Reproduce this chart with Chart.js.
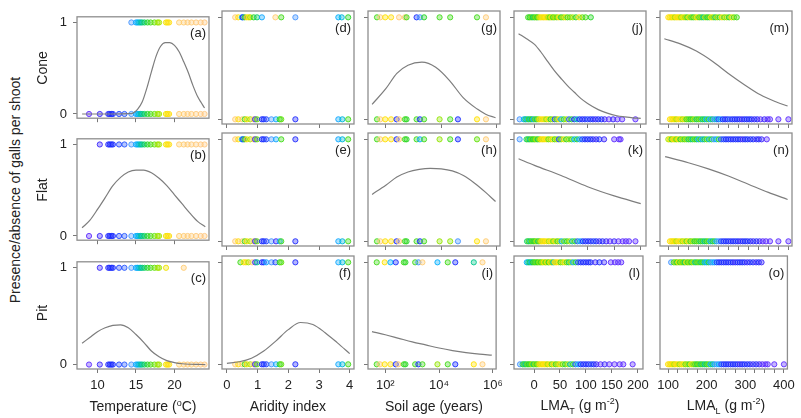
<!DOCTYPE html>
<html>
<head>
<meta charset="utf-8">
<script src="https://cdn.jsdelivr.net/npm/chart.js@4.4.0/dist/chart.umd.min.js"></script>
<style>
  body { margin: 0; background: #fff; }
  #wrap { position: relative; width: 801px; height: 418px; overflow: hidden;
          font-family: "Liberation Sans", Arial, sans-serif; color: #222; }
  #wrap canvas { position: absolute; }
  .lbl { position: absolute; white-space: nowrap; font-size: 14px; transform: translate(-50%, -50%); }
  .rot { transform: translate(-50%, -50%) rotate(-90deg); }
  sup, sub { font-size: 9px; }
</style>
</head>
<body>
<div id="wrap"></div>
<script>
// ---- data ----
// site temperatures (also used as the colour key of every point)
const siteTemp = [8.9, 10.3, 11.4, 11.6, 11.8, 12.0, 12.8, 13.5, 14.4, 15.0, 15.2, 15.4, 15.6, 15.8, 16.1,
  16.5, 16.9, 17.4, 17.8, 18.0, 18.9, 19.1, 19.3, 20.6, 21.2, 21.7, 22.2, 22.8, 23.4, 23.9];
const tempConePresent = [14.4, 15.0, 15.2, 15.4, 15.6, 15.8, 16.1, 16.5, 16.9, 17.4, 17.8, 18.0, 18.9, 19.1, 19.3,
  20.6, 21.2, 21.7, 22.2, 22.8, 23.4, 23.9];
const tempFlatPresent = siteTemp.slice(1);
const tempPitPresent = [10.3, 11.4, 11.6, 11.8, 12.0, 12.8, 13.5, 14.4, 15.0, 15.2, 15.4, 15.6, 15.8, 16.1, 16.5,
  16.9, 17.4, 17.8, 18.0, 18.9, 21.2];

// [aridity index, temperature]
const aridConePresent = [[0.27,21.7],[0.37,19.1],[0.49,15.2],[0.52,12.0],[0.58,16.9],[0.65,19.1],[0.71,19.3],[0.76,18.0],
  [0.87,16.5],[0.98,16.1],[1.14,15.0],[1.58,20.6],[1.77,16.9],[2.23,14.4],[3.63,15.2],[3.74,15.4],[3.95,16.5]];
const aridAbsent = [[0.27,21.7],[0.37,19.3],[0.5,22.2],[0.58,16.9],[0.65,19.1],[0.76,18.0],[0.87,20.6],[0.92,10.3],
  [0.98,17.4],[1.14,12.0],[1.2,11.8],[1.28,12.8],[1.45,14.4],[1.6,15.0],[1.72,16.5],[1.77,17.4],[2.23,11.6],
  [3.63,15.0],[3.76,15.4],[3.95,16.9]];
const aridFlatPresent = [[0.27,21.7],[0.37,19.3],[0.49,15.2],[0.53,12.0],[0.58,16.9],[0.65,19.1],[0.76,18.0],[0.87,20.6],
  [0.92,10.3],[0.98,17.4],[1.14,12.0],[1.2,11.8],[1.28,12.8],[1.45,14.4],[1.6,15.0],[1.77,16.9],[2.23,11.6],
  [3.63,15.0],[3.76,15.4],[3.95,16.9]];
const aridFlatAbsent = [[0.27,21.7],[0.37,19.3],[0.5,22.2],[0.58,16.9],[0.65,19.1],[0.76,18.0],[0.87,20.6],[0.92,10.3],
  [0.98,17.4],[1.14,12.0],[1.2,11.8],[1.28,12.8],[1.45,14.4],[1.6,10.3],[1.72,15.0],[1.77,16.9],[2.23,11.6],
  [3.63,15.0],[3.76,15.4],[3.95,16.9]];
const aridPitPresent = [[0.44,16.9],[0.55,19.1],[0.62,19.3],[0.7,18.0],[0.82,20.6],[0.92,10.3],[0.98,15.8],[1.14,12.0],
  [1.2,11.8],[1.28,15.0],[1.45,14.4],[1.58,12.8],[1.72,16.5],[1.77,17.4],[2.23,11.6],[3.63,15.0],[3.76,15.4],[3.95,16.9]];

// [soil age (years), temperature]
const soilConePresent = [[48,16.9],[63,21.7],[95,19.1],[155,19.3],[300,22.5],[490,21.2],[560,16.9],[1290,12.0],
  [1700,14.4],[2400,16.5],[8700,16.9],[21000,16.9],[195000,16.9],[410000,21.7]];
const soilAbsent = [[48,16.9],[63,21.7],[95,19.1],[155,19.3],[245,12.0],[300,21.2],[490,16.9],[560,16.5],[1290,16.9],
  [1700,12.0],[2400,16.9],[8700,17.8],[21000,16.9],[40000,12.0],[195000,19.1],[410000,21.2]];
const soilFlatPresent = [[48,16.9],[63,21.7],[95,19.1],[155,19.3],[245,12.0],[300,21.2],[490,16.9],[560,16.5],
  [1290,16.9],[1700,15.0],[2400,16.9],[8700,17.8],[21000,16.9],[40000,12.0],[195000,17.4],[410000,21.2]];
const soilFlatAbsent = [[48,16.9],[63,21.7],[95,19.1],[155,19.3],[245,12.0],[300,21.2],[490,16.9],[560,16.5],
  [1290,16.9],[1700,12.0],[2400,16.9],[8700,17.8],[21000,17.8],[40000,14.4],[195000,19.1],[410000,21.2]];
const soilPitPresent = [[48,16.9],[95,19.1],[155,15.2],[245,12.0],[490,16.9],[560,16.5],[1290,16.9],[1700,14.4],
  [2400,21.2],[8700,15.2],[21000,16.9],[40000,12.0],[195000,15.8],[410000,21.2]];

// [LMA_T (g m-2), temperature]
const lmaTConePresent = [[-12,16.9],[-9,16.5],[-6,17.4],[-3,16.1],[0,16.9],[3,17.8],[5,16.5],[8,18.0],[11,19.1],[14,19.3],
  [17,18.9],[20,19.1],[23,19.3],[26,18.0],[29,17.4],[32,18.9],[35,16.9],[38,18.0],[42,17.4],[46,19.1],[50,16.5],[54,17.8],
  [58,18.9],[62,16.9],[67,17.4],[72,18.0],[78,16.5],[84,19.1],[90,17.4],[96,16.9],[106,16.5]];
const lmaTConeAbsent = [[-28,14.4],[-20,15.2],[-17,16.1],[-14,15.4],[-11,16.9],[-8,15.8],[-5,16.5],[-2,15.0],[1,17.4],
  [4,16.1],[7,18.0],[10,19.1],[14,19.3],[18,18.9],[22,17.8],[26,19.1],[30,16.5],[34,18.0],[38,12.8],[42,17.4],[46,19.1],
  [50,15.2],[55,16.9],[60,18.0],[65,13.5],[70,16.5],[75,12.0],[80,15.6],[85,11.8],[90,12.0],[95,11.4],[100,12.8],
  [105,11.6],[110,12.0],[115,10.3],[120,11.8],[126,12.0],[132,10.3],[140,9.0],[148,10.3],[156,9.0],[165,9.0],[190,9.0]];
const lmaTFlatPresent = [[-28,14.4],[-15,16.1],[-12,16.9],[-9,15.8],[-6,17.4],[-3,16.5],[0,16.9],[3,18.0],[6,16.1],
  [9,17.8],[12,19.1],[15,19.3],[18,18.9],[22,19.1],[26,17.4],[30,18.0],[34,19.1],[38,16.9],[42,18.0],[46,12.8],[50,17.4],
  [55,18.9],[60,16.5],[65,17.8],[70,16.9],[75,15.2],[80,16.5],[85,15.0],[90,12.8],[95,12.0],[100,11.8],[105,12.0],
  [110,11.4],[116,10.3],[122,12.0],[131,10.3],[150,9.0],[159,9.0],[162,9.0]];
const lmaTFlatAbsent = [[-14,16.1],[-11,16.9],[-8,15.8],[-5,17.4],[-2,16.5],[1,16.9],[4,18.0],[7,16.1],[10,17.8],
  [13,19.1],[16,19.3],[19,18.9],[23,19.1],[27,18.0],[31,19.1],[35,17.4],[39,18.9],[43,16.9],[47,18.0],[51,15.2],[56,17.4],
  [61,16.5],[66,18.0],[71,15.6],[76,16.9],[81,13.5],[86,15.2],[91,12.0],[96,11.8],[101,12.0],[106,11.4],[111,12.8],
  [116,12.0],[122,10.3],[128,11.6],[135,10.3],[142,9.0],[150,10.3],[158,9.0],[166,9.0],[172,9.0],[178,9.0],[190,9.0]];
const lmaTPitPresent = [[-14,15.2],[-11,15.8],[-8,16.1],[-5,15.4],[-2,16.5],[1,16.9],[4,17.4],[7,16.5],[10,17.8],
  [13,16.9],[16,18.0],[19,19.1],[22,17.4],[25,18.9],[28,16.5],[31,19.1],[34,18.0],[37,15.6],[40,19.3],[43,18.9],[47,19.1],
  [51,16.9],[55,18.0],[59,19.1],[63,17.4],[67,16.1],[71,18.0],[75,15.0],[80,16.5],[85,12.8],[90,12.0],[95,11.8],
  [100,12.0],[105,11.4],[109,12.0],[118,10.3],[126,12.0],[135,10.3],[148,9.0],[156,9.0],[162,9.0],[168,9.0]];
const lmaTPitAbsent = [[-27,14.4],[-22,16.1],[-19,16.9],[-16,15.8],[-13,17.4],[-10,16.5],[-7,16.9],[-4,18.0],[-1,16.1],
  [2,17.8],[5,16.9],[8,18.0],[11,19.1],[14,19.3],[17,18.9],[20,19.1],[23,19.3],[26,18.0],[30,19.1],[34,17.4],[38,18.9],
  [42,16.9],[46,18.0],[50,19.1],[55,17.4],[60,16.5],[65,18.0],[70,15.6],[75,16.9],[80,13.5],[85,15.2],[90,12.0],
  [95,11.8],[100,12.0],[105,11.4],[110,12.8],[115,12.0],[120,10.3],[128,9.0],[136,10.3],[145,9.0],[155,9.0],[165,9.0],
  [172,9.0],[190,9.0]];

// [LMA_L (g m-2), temperature]
const lmaLConePresent = [[100,19.1],[104,19.3],[108,18.9],[112,19.1],[116,18.0],[120,19.3],[124,19.1],[128,18.9],
  [132,17.8],[137,19.1],[142,18.0],[147,16.9],[152,18.9],[157,17.4],[162,16.5],[167,18.0],[172,19.1],[177,16.9],
  [182,17.4],[187,15.8],[192,18.0],[197,16.5],[202,16.9],[207,19.1],[212,17.8],[217,16.1],[222,18.0],[228,16.9],
  [234,19.1],[240,17.4],[246,18.0],[252,16.5],[258,18.9],[264,17.4],[271,16.9]];
const lmaLConeAbsent = [[104,19.1],[108,19.3],[112,18.9],[116,19.1],[120,18.0],[125,19.3],[130,19.1],[135,17.8],
  [140,18.9],[145,16.9],[150,17.4],[155,16.5],[160,16.9],[165,18.0],[170,16.1],[175,16.9],[180,17.4],[185,15.8],
  [190,16.5],[195,15.2],[200,16.9],[205,15.0],[210,16.1],[215,14.4],[220,15.4],[225,12.8],[230,15.0],[236,12.0],
  [242,11.8],[248,12.0],[254,13.5],[260,11.4],[266,12.0],[272,11.6],[278,12.0],[284,10.3],[290,11.8],[296,12.0],
  [302,11.4],[308,12.0],[315,10.3],[322,11.6],[330,9.0],[340,10.3],[348,9.0],[354,9.0],[375,9.0],[400,9.0]];
const lmaLFlatPresent = [[100,18.0],[104,19.1],[108,16.9],[112,19.3],[116,18.9],[120,17.4],[125,19.1],[130,16.5],
  [135,18.0],[140,16.9],[145,17.8],[150,16.1],[155,16.9],[160,15.8],[165,17.4],[170,16.5],[175,15.2],[180,16.9],
  [185,15.0],[190,16.1],[196,17.4],[202,15.4],[208,16.5],[214,14.4],[220,15.2],[226,16.9],[232,13.5],[238,12.8],
  [244,12.0],[250,11.8],[256,12.0],[262,11.4],[268,12.0],[274,11.6],[280,12.0],[286,10.3],[292,11.8],[298,12.0],
  [305,11.4],[312,12.0],[320,10.3],[326,11.6],[333,10.3],[346,9.0]];
const lmaLFlatAbsent = [[104,19.1],[108,19.3],[112,18.9],[116,19.1],[120,18.0],[125,19.3],[130,19.1],[135,17.8],
  [140,18.9],[145,17.4],[150,19.1],[155,16.9],[160,18.0],[165,16.5],[170,16.9],[175,17.4],[180,16.1],[185,16.9],
  [190,15.8],[195,16.5],[200,17.4],[205,15.2],[210,16.1],[215,16.9],[220,15.0],[226,14.4],[232,12.8],[238,12.0],
  [244,11.8],[250,12.0],[256,11.4],[262,12.0],[268,11.6],[274,12.0],[280,10.3],[286,11.8],[292,12.0],[298,11.4],
  [305,12.0],[312,10.3],[320,11.6],[328,10.3],[336,9.0],[344,9.0],[354,9.0],[375,9.0],[400,9.0]];
const lmaLPitPresent = [[108,14.4],[115,16.9],[119,18.0],[123,16.5],[127,19.1],[131,16.9],[135,18.0],[139,17.4],
  [143,16.1],[147,18.9],[151,16.9],[155,17.8],[160,16.5],[165,18.0],[170,15.8],[175,16.9],[180,17.4],[185,16.1],
  [190,16.9],[195,15.4],[200,15.2],[205,16.5],[210,15.0],[215,14.4],[220,15.2],[226,12.8],[232,12.0],[238,11.8],
  [244,12.0],[250,11.4],[256,12.0],[262,11.6],[268,12.0],[274,10.3],[280,11.8],[286,12.0],[292,11.4],[298,12.0],
  [305,10.3],[312,11.6],[320,12.0],[328,10.3],[335,11.8],[342,10.3]];
const lmaLPitAbsent = [[100,19.1],[104,19.3],[108,18.9],[112,19.1],[116,18.0],[120,19.3],[125,19.1],[130,17.8],
  [135,18.9],[140,19.1],[145,17.4],[150,18.0],[155,16.9],[160,19.1],[165,17.8],[170,16.9],[175,16.5],[180,17.4],
  [185,16.1],[190,16.9],[195,15.8],[200,16.5],[205,17.4],[210,15.2],[215,16.1],[220,15.0],[226,14.4],[232,15.2],
  [238,12.8],[244,12.0],[250,11.8],[256,12.0],[262,11.4],[268,12.0],[274,11.6],[280,12.0],[286,10.3],[292,11.8],
  [298,12.0],[305,11.4],[312,12.0],[320,10.3],[328,11.6],[336,10.3],[344,9.0],[352,9.0],[358,9.0],[375,9.0],[400,9.0]];

// fitted curves [x, probability]
const fitTempCone = [[8,0],[10,0],[12,0],[14,0.003],[14.6,0.01],[15.2,0.05],[15.8,0.13],[16.4,0.28],[17,0.46],
  [17.6,0.63],[18.2,0.74],[18.8,0.78],[19.4,0.78],[20,0.75],[20.6,0.68],[21.2,0.57],[21.8,0.45],[22.4,0.31],
  [23,0.19],[23.5,0.12],[23.9,0.065]];
const fitTempFlat = [[8,0.09],[9,0.17],[10,0.29],[11,0.42],[12,0.55],[13,0.64],[14,0.7],[15,0.72],[16,0.72],[17,0.69],
  [18,0.63],[19,0.55],[20,0.45],[21,0.35],[22,0.25],[23,0.16],[24,0.1]];
const fitTempPit = [[8,0.22],[9,0.28],[10,0.34],[11,0.38],[12,0.405],[13,0.41],[14,0.38],[15,0.31],[16,0.23],[17,0.14],
  [18,0.08],[19,0.04],[20,0.02],[21,0.008],[22,0.003],[23,0.001],[24,0]];
const fitAridPit = [[0,0.01],[0.4,0.025],[0.8,0.06],[1.2,0.13],[1.6,0.23],[2.0,0.34],[2.4,0.41],[2.8,0.39],[3.2,0.31],
  [3.6,0.21],[4.0,0.105]];
const fitSoilCone = [[32,0.147],[100,0.30],[250,0.45],[630,0.53],[2000,0.56],[6300,0.51],[20000,0.38],[63000,0.21],
  [200000,0.1],[400000,0.05],[910000,0.015]];
const fitSoilFlat = [[32,0.46],[100,0.55],[250,0.63],[630,0.68],[1600,0.705],[4000,0.715],[10000,0.71],[25000,0.69],
  [63000,0.645],[160000,0.57],[400000,0.48],[910000,0.39]];
const fitSoilPit = [[32,0.32],[100,0.29],[316,0.255],[1000,0.22],[3160,0.19],[10000,0.16],[31600,0.135],
  [100000,0.115],[316000,0.1],[910000,0.09]];
const fitLmaTCone = [[-30,0.84],[-15,0.79],[0,0.735],[12,0.66],[25,0.565],[37,0.48],[50,0.40],[62,0.33],[75,0.265],
  [87,0.205],[100,0.155],[120,0.095],[137,0.06],[155,0.035],[170,0.024],[185,0.015],[200,0.01]];
const fitLmaTFlat = [[-30,0.81],[0,0.745],[50,0.645],[100,0.535],[150,0.445],[200,0.37]];
const fitLmaLCone = [[90,0.79],[130,0.74],[170,0.67],[210,0.57],[250,0.45],[290,0.34],[330,0.24],[370,0.17],[398,0.13]];
const fitLmaLFlat = [[92,0.83],[150,0.77],[200,0.71],[250,0.64],[300,0.56],[350,0.48],[398,0.41]];

// axis ticks
const tempTicks = [10, 15, 20];
const aridTicks = [0, 1, 2, 3, 4];
const soilTicks = [100, 10000, 1000000];
const soilTickLabels = ['10\u00b2', '10\u2074', '10\u2076'];
const lmaTTicks = [0, 50, 100, 150, 200];
const lmaLTicks = [100, 125, 150, 175, 200, 225, 250, 275, 300, 325, 350, 375, 400];
const rowNames = ['Cone', 'Flat', 'Pit'];
const letters = [['(a)','(d)','(g)','(j)','(m)'], ['(b)','(e)','(h)','(k)','(n)'], ['(c)','(f)','(i)','(l)','(o)']];

// ---- layout ----
const boxLeft = [77, 222, 368, 514, 660];
const boxTop = [11, 133, 256];
const boxW = 132, boxH = 113;
const padL = 30, padT = 8, padR = 8;

// colour ramp keyed on temperature
const stops = [[8.9,[95,45,255]],[10.5,[55,40,250]],[12,[25,45,255]],[13.5,[40,90,255]],[14.4,[70,150,255]],
  [15.2,[0,175,255]],[15.8,[0,200,140]],[16.5,[40,215,40]],[17.4,[100,225,10]],[18.0,[170,230,0]],
  [19.1,[255,225,0]],[20.5,[255,205,110]],[24,[255,200,130]]];
function tempColor(t, a) {
  let c = stops[stops.length - 1][1];
  if (t <= stops[0][0]) c = stops[0][1];
  for (let i = 0; i < stops.length - 1; i++) {
    const [t0, c0] = stops[i], [t1, c1] = stops[i + 1];
    if (t >= t0 && t <= t1) {
      const f = (t - t0) / (t1 - t0);
      c = c0.map((v, k) => Math.round(v + (c1[k] - v) * f));
      break;
    }
  }
  return `rgba(${c[0]},${c[1]},${c[2]},${a})`;
}

const cols = [
  { type: 'linear', min: 7.34, max: 24.48, ticks: tempTicks, label: v => String(v),
    title: 'Temperature (<sup>o</sup>C)' },
  { type: 'linear', min: -0.16, max: 4.14, ticks: aridTicks, label: v => String(v), title: 'Aridity index' },
  { type: 'logarithmic', min: 22.75, max: 1318000, ticks: soilTicks,
    label: v => soilTickLabels[soilTicks.indexOf(v)] || '', title: 'Soil age (years)' },
  { type: 'linear', min: -38.6, max: 209.9, ticks: lmaTTicks, label: v => String(v),
    title: 'LMA<sub>T</sub> (g m<sup>-2</sup>)' },
  { type: 'linear', min: 79.2, max: 409, ticks: lmaLTicks, label: v => (v % 100 === 0 ? String(v) : ''),
    title: 'LMA<sub>L</sub> (g m<sup>-2</sup>)' }
];

const tAsPairs = arr => arr.map(t => [t, t]);
const panels = [
  [
    { pres: tAsPairs(tempConePresent), abs: tAsPairs(siteTemp), fit: fitTempCone },
    { pres: aridConePresent, abs: aridAbsent, fit: null },
    { pres: soilConePresent, abs: soilAbsent, fit: fitSoilCone },
    { pres: lmaTConePresent, abs: lmaTConeAbsent, fit: fitLmaTCone },
    { pres: lmaLConePresent, abs: lmaLConeAbsent, fit: fitLmaLCone }
  ],
  [
    { pres: tAsPairs(tempFlatPresent), abs: tAsPairs(siteTemp), fit: fitTempFlat },
    { pres: aridFlatPresent, abs: aridFlatAbsent, fit: null },
    { pres: soilFlatPresent, abs: soilFlatAbsent, fit: fitSoilFlat },
    { pres: lmaTFlatPresent, abs: lmaTFlatAbsent, fit: fitLmaTFlat },
    { pres: lmaLFlatPresent, abs: lmaLFlatAbsent, fit: fitLmaLFlat }
  ],
  [
    { pres: tAsPairs(tempPitPresent), abs: tAsPairs(siteTemp), fit: fitTempPit },
    { pres: aridPitPresent, abs: aridAbsent, fit: fitAridPit },
    { pres: soilPitPresent, abs: soilAbsent, fit: fitSoilPit },
    { pres: lmaTPitPresent, abs: lmaTPitAbsent, fit: null },
    { pres: lmaLPitPresent, abs: lmaLPitAbsent, fit: null }
  ]
];

// box round the plot region + panel letter
const framePlugin = {
  id: 'frame',
  afterDatasetsDraw(chart, args, opts) {
    const { ctx, chartArea: a } = chart;
    ctx.save();
    ctx.strokeStyle = '#8e8e8e';
    ctx.lineWidth = 1.3;
    ctx.strokeRect(a.left, a.top, a.right - a.left, a.bottom - a.top);
    ctx.fillStyle = '#222';
    ctx.font = '13px "Liberation Sans", Arial, sans-serif';
    ctx.textAlign = 'right';
    ctx.textBaseline = 'middle';
    ctx.fillText(opts.letter, a.right - 3, a.top + 17);
    ctx.restore();
  }
};

const wrap = document.getElementById('wrap');
const tickFont = { family: '"Liberation Sans", Arial, sans-serif', size: 13 };

function toPoints(arr, y) {
  return arr.map(p => ({ x: p[0], y: y, t: p[1] }));
}

panels.forEach((row, r) => {
  row.forEach((p, c) => {
    const col = cols[c];
    const bottomRow = r === 2;
    const bottomH = bottomRow ? 25 : 8;
    const canvas = document.createElement('canvas');
    const W = padL + boxW + padR, H = padT + boxH + bottomH;
    canvas.width = W; canvas.height = H;
    canvas.style.left = (boxLeft[c] - padL) + 'px';
    canvas.style.top = (boxTop[r] - padT) + 'px';
    canvas.style.width = W + 'px'; canvas.style.height = H + 'px';
    wrap.appendChild(canvas);

    const pointStyle = {
      showLine: false,
      pointRadius: 2.6,
      pointBorderWidth: 1,
      pointBorderColor: ctx => tempColor(ctx.raw.t, 0.9),
      pointBackgroundColor: ctx => tempColor(ctx.raw.t, 0.35),
      clip: 6
    };
    const datasets = [];
    if (p.fit) {
      datasets.push({
        data: p.fit.map(q => ({ x: q[0], y: q[1] })),
        showLine: true, pointRadius: 0, borderColor: '#7d7d7d', borderWidth: 1.2,
        cubicInterpolationMode: 'monotone', fill: false
      });
    }
    datasets.push(Object.assign({ data: toPoints(p.pres, 1) }, pointStyle));
    datasets.push(Object.assign({ data: toPoints(p.abs, 0) }, pointStyle));

    new Chart(canvas, {
      type: 'scatter',
      data: { datasets },
      plugins: [framePlugin],
      options: {
        responsive: false,
        animation: false,
        devicePixelRatio: 1,
        layout: { autoPadding: false, padding: { top: padT, right: padR, left: 0, bottom: 0 } },
        plugins: { legend: { display: false }, tooltip: { enabled: false }, frame: { letter: letters[r][c] } },
        scales: {
          x: {
            type: col.type, min: col.min, max: col.max,
            afterBuildTicks: s => { s.ticks = col.ticks.map(v => ({ value: v })); },
            afterFit: s => { s.height = bottomH; },
            grid: { display: true, drawOnChartArea: false, drawTicks: true, tickLength: 4, color: '#777' },
            border: { display: false },
            ticks: { display: bottomRow, autoSkip: false, maxRotation: 0, padding: 5, font: tickFont, color: '#222',
                     callback: v => col.label(v) }
          },
          y: {
            type: 'linear', min: -0.046, max: 1.062,
            afterBuildTicks: s => { s.ticks = [{ value: 0 }, { value: 1 }]; },
            afterFit: s => { s.width = padL; },
            grid: { display: true, drawOnChartArea: false, drawTicks: true, tickLength: 4, color: '#777' },
            border: { display: false },
            ticks: { display: c === 0, padding: 6, font: tickFont, color: '#222', callback: v => String(v) }
          }
        }
      }
    });
  });
});

// text labels
function addLabel(html, x, y, rot) {
  const d = document.createElement('div');
  d.className = 'lbl' + (rot ? ' rot' : '');
  d.innerHTML = html;
  d.style.left = x + 'px';
  d.style.top = y + 'px';
  wrap.appendChild(d);
}
addLabel('Presence/absence of galls per shoot', 15, 190, true);
rowNames.forEach((n, r) => addLabel(n, 42, boxTop[r] + boxH / 2, true));
cols.forEach((col, c) => addLabel(col.title, boxLeft[c] + boxW / 2, 406, false));
</script>
</body>
</html>
